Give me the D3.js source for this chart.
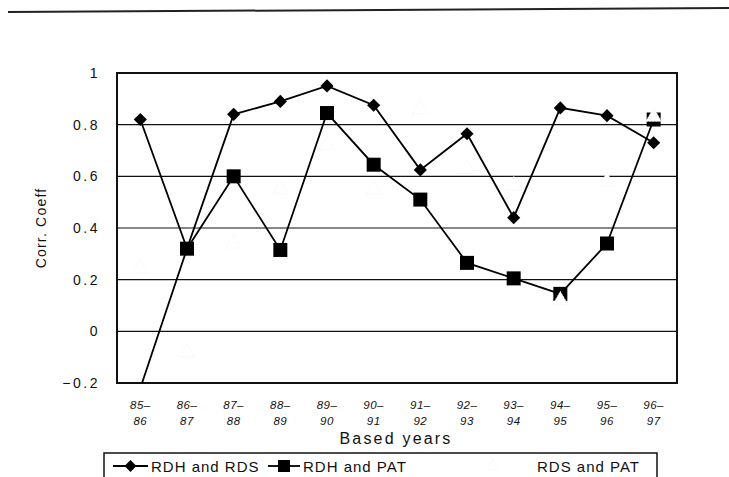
<!DOCTYPE html>
<html>
<head>
<meta charset="utf-8">
<script src="https://cdn.jsdelivr.net/npm/d3@7"></script>
<style>
  body { margin: 0; background: #fff; }
  svg { font-family: "Liberation Sans", Arial, sans-serif; }
</style>
</head>
<body>
<div id="chart"></div>
<script>
// Data
const years = ["85-86", "86-87", "87-88", "88-89", "89-90", "90-91",
               "91-92", "92-93", "93-94", "94-95", "95-96", "96-97"];
const rdhRds = [0.82, 0.32, 0.84, 0.89, 0.95, 0.875, 0.625, 0.765, 0.44, 0.865, 0.835, 0.73];
const rdhPat = [-0.22, 0.32, 0.60, 0.315, 0.845, 0.645, 0.51, 0.265, 0.205, 0.145, 0.34, 0.82];
const rdsPat = [0.245, -0.08, 0.34, 0.55, 0.72, 0.55, 0.86, 0.63, 0.565, 0.12, 0.58, 0.83];
const yTicks = [-0.2, 0, 0.2, 0.4, 0.6, 0.8, 1];

const W = 729, H = 477;
const margin = {top: 73, right: 52, bottom: 94, left: 117};
const width = W - margin.left - margin.right,
      height = H - margin.top - margin.bottom;

const svg = d3.select("#chart").append("svg")
    .attr("width", W)
    .attr("height", H);

// scanned page rule at the top
svg.append("line")
    .attr("x1", 8).attr("y1", 12).attr("x2", 729).attr("y2", 8)
    .attr("stroke", "#222").attr("stroke-width", 2);

const g = svg.append("g")
    .attr("transform", "translate(" + margin.left + "," + margin.top + ")");

const x = d3.scalePoint().domain(years).range([0, width]).padding(0.5);
const y = d3.scaleLinear().domain([-0.2, 1]).range([height, 0]);

// gridlines
g.append("g")
    .selectAll("line")
    .data(yTicks)
    .join("line")
    .attr("x1", 0).attr("x2", width)
    .attr("y1", d => y(d)).attr("y2", d => y(d))
    .attr("stroke", "#111").attr("stroke-width", 1.2);

// y axis labels
const yAxis = g.append("g")
    .call(d3.axisLeft(y).tickValues(yTicks).tickSize(0).tickPadding(17)
        .tickFormat(d => d === 0 ? "0" : d === 1 ? "1" : d3.format(".1f")(d).replace("-", "\u2212")));
yAxis.select(".domain").remove();
yAxis.selectAll("text")
    .attr("font-size", 14)
    .attr("letter-spacing", 2.5)
    .attr("fill", "#111");

// plot frame
g.append("rect")
    .attr("width", width).attr("height", height)
    .attr("fill", "none").attr("stroke", "#111").attr("stroke-width", 2);

// x labels (two lines, italic)
const xl = g.append("g").selectAll("text")
    .data(years)
    .join("text")
    .attr("x", d => x(d))
    .attr("y", height + 26)
    .attr("text-anchor", "middle")
    .attr("font-size", 11.5)
    .attr("font-style", "italic")
    .attr("letter-spacing", 0.5)
    .attr("fill", "#111");
xl.append("tspan").attr("x", d => x(d)).text(d => d.slice(0, 3).replace("-", "\u2013"));
xl.append("tspan").attr("x", d => x(d)).attr("dy", 16).text(d => d.slice(3));

// axis titles
svg.append("text")
    .attr("x", 396).attr("y", 444)
    .attr("text-anchor", "middle")
    .attr("font-size", 16)
    .attr("letter-spacing", 2.2)
    .attr("fill", "#111")
    .text("Based years");

svg.append("text")
    .attr("transform", "translate(46,228) rotate(-90)")
    .attr("text-anchor", "middle")
    .attr("font-size", 14)
    .attr("letter-spacing", 1.2)
    .attr("fill", "#111")
    .text("Corr. Coeff");

// clip for values below the axis
g.append("clipPath").attr("id", "plotclip")
    .append("rect").attr("width", width).attr("height", height);

const plot = g.append("g").attr("clip-path", "url(#plotclip)");

const line = d3.line()
    .x((d, i) => x(years[i]))
    .y(d => y(d));

const diamond = d3.symbol().type(d3.symbolDiamond2).size(110);
const triangle = d3.symbol().type(d3.symbolTriangle).size(110);
const inDomain = d => d >= -0.2;

// RDH and RDS
plot.append("path").datum(rdhRds)
    .attr("fill", "none").attr("stroke", "#000").attr("stroke-width", 1.8)
    .attr("d", line);
// RDH and PAT
plot.append("path").datum(rdhPat)
    .attr("fill", "none").attr("stroke", "#000").attr("stroke-width", 1.8)
    .attr("d", line);

plot.selectAll(".dia").data(rdhRds).join("path")
    .attr("class", "dia")
    .attr("transform", (d, i) => "translate(" + x(years[i]) + "," + y(d) + ")")
    .attr("d", diamond)
    .attr("fill", "#000");

plot.selectAll(".sq").data(rdhPat).join("rect")
    .attr("class", "sq")
    .attr("x", (d, i) => x(years[i]) - 7)
    .attr("y", d => y(d) - 7)
    .attr("width", 14).attr("height", 14)
    .attr("fill", "#000")
    .attr("display", d => inDomain(d) ? null : "none");

// RDS and PAT: faint white triangles
plot.selectAll(".tri").data(rdsPat).join("path")
    .attr("class", "tri")
    .attr("transform", (d, i) => "translate(" + x(years[i]) + "," + y(d) + ")")
    .attr("d", triangle)
    .attr("fill", "#fff")
    .attr("stroke", "#ececec")
    .attr("stroke-width", 0.8)
    .attr("stroke-dasharray", "1,2");

// legend
const leg = svg.append("g");
leg.append("rect")
    .attr("x", 104).attr("y", 453).attr("width", 553).attr("height", 40)
    .attr("fill", "none").attr("stroke", "#111").attr("stroke-width", 1.5);

const legY = 466;
const legendItems = [
    {name: "RDH and RDS", x0: 113, x1: 148, tx: 151, mark: "diamond"},
    {name: "RDH and PAT", x0: 268, x1: 300, tx: 303, mark: "square"},
    {name: "RDS and PAT", x0: 480, x1: 502, tx: 537, mark: "triangle"}
];
legendItems.forEach(it => {
    if (it.mark !== "triangle") {
        leg.append("line")
            .attr("x1", it.x0).attr("x2", it.x1)
            .attr("y1", legY).attr("y2", legY)
            .attr("stroke", "#000").attr("stroke-width", 1.8);
    }
    const cx = (it.x0 + it.x1) / 2;
    if (it.mark === "diamond") {
        leg.append("path").attr("d", d3.symbol().type(d3.symbolDiamond2).size(90))
            .attr("transform", "translate(" + cx + "," + legY + ")").attr("fill", "#000");
    } else if (it.mark === "square") {
        leg.append("rect").attr("x", cx - 6).attr("y", legY - 6)
            .attr("width", 12).attr("height", 12).attr("fill", "#000");
    } else {
        leg.append("path").attr("d", d3.symbol().type(d3.symbolTriangle).size(60))
            .attr("transform", "translate(" + (cx + 2) + "," + legY + ")")
            .attr("fill", "#fff").attr("stroke", "#ececec").attr("stroke-width", 0.8)
            .attr("stroke-dasharray", "1,2");
    }
    leg.append("text")
        .attr("x", it.tx).attr("y", legY + 5.5)
        .attr("font-size", 15)
        .attr("letter-spacing", 1)
        .attr("fill", "#111")
        .text(it.name);
});
</script>
</body>
</html>
